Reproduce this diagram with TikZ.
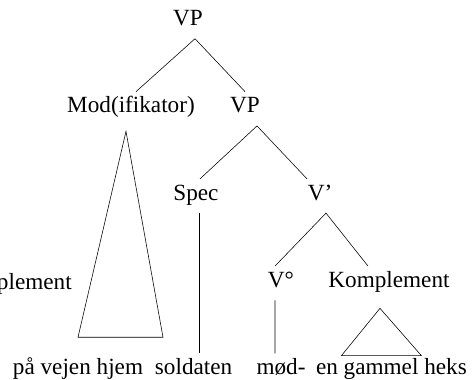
\documentclass[tikz,border=0pt]{standalone}
\usepackage{fontspec}
\setmainfont{Liberation Serif}

\begin{document}
\begin{tikzpicture}
[every node/.style={inner xsep=0pt,inner ysep=.28cm,text height=1.5ex,text depth=.25ex},
font=\fontsize{16.5}{20}\selectfont,
grow=south, level distance=2.18cm,
level 1/.style={sibling distance=2.85cm},
level 2/.style={sibling distance=3.1cm},
level 3/.style={sibling distance=2.7cm},
edge from parent/.style={draw=none},
]
\useasboundingbox (0,0) rectangle (11.825,-9.5);
\clip (0,0) rectangle (11.825,-9.5);
\node (vp) at (4.7,-.54) {VP}
  child{node (mod) {Mod(ifikator)}
    child[level distance=6.54cm,xshift=-1.325cm]{node (pvh) {på vejen hjem}}}
  child{node (vp2) {VP}
    child[xshift=.325cm]{node (spec) {Spec}
      child[level distance=4.36cm,xshift=-.06cm]{node (sold) {soldaten}}}
    child[xshift=.325cm]{node (vbar) {V’}
      child[xshift=.375cm]{node (vnull) {V°}
        child{node (moed) {mød-}}}
      child[xshift=.375cm]{node (komp) {Komplement}
        child[xshift=.06cm]{node (geh) {en gammel heks}}}}};
\node[anchor=base east] (komp0) at (1.8,-7.25) {Komplement};
% tagene
\draw ([xshift=.125cm]mod.north) -- ([xshift=.175cm]vp.south) -- (vp2.north);
\draw ([xshift=.1cm]spec.north) -- ([xshift=.3cm]vp2.south) -- ([xshift=-.325cm]vbar.north);
\draw ([xshift=-.15cm]vnull.north) -- ([xshift=.15cm]vbar.south) -- ([xshift=-.525cm]komp.north);
\draw ([xshift=.075cm]spec.south) -- ([xshift=.075cm]spec.south |- sold.north);
\draw ([xshift=-.15cm]vnull.south) -- ([xshift=-.15cm]moed.north);
% trekanter
\draw ([xshift=-.125cm,yshift=-.135cm]mod.south) -- ([yshift=.4cm]pvh.north)
  -- ([xshift=2.125cm,yshift=.4cm]pvh.north) -- cycle;
\draw ([xshift=-.225cm,yshift=-.2cm]komp.south) -- ([xshift=-1.25cm,yshift=-.06cm]geh.north)
  -- ([xshift=.75cm,yshift=-.06cm]geh.north) -- cycle;
\end{tikzpicture}
\end{document}
